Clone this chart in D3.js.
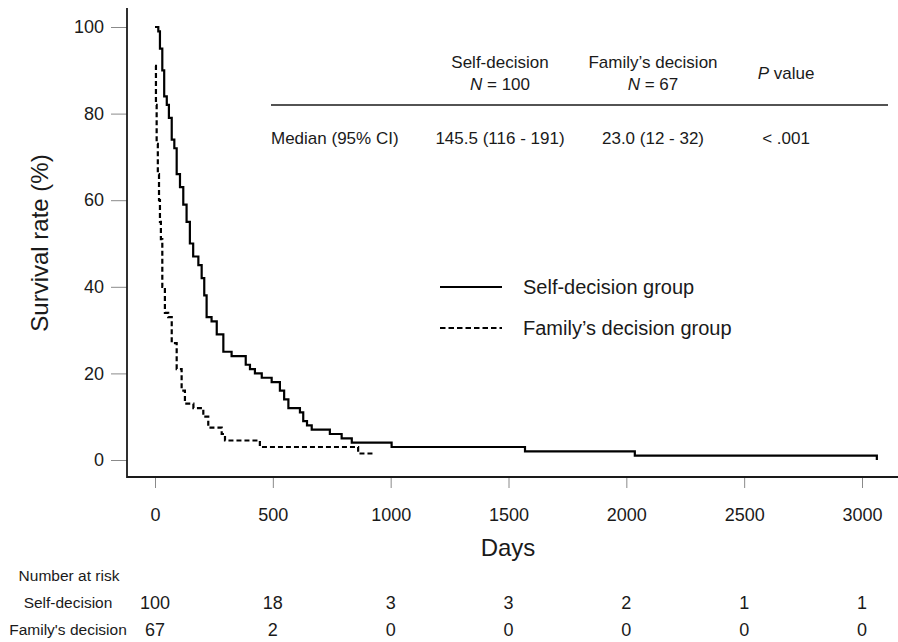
<!DOCTYPE html>
<html>
<head>
<meta charset="utf-8">
<script src="https://cdn.jsdelivr.net/npm/d3@7"></script>
<style>
  body { margin: 0; background: #fff; }
  svg { display: block; font-family: "Liberation Sans", Arial, sans-serif; }
</style>
</head>
<body>
<div id="km"></div>
<script>
// Kaplan-Meier steps: day of drop, survival (%) after it
const selfDays = [0, 14, 21, 31, 39, 50, 59, 71, 82, 92, 106, 120, 134, 148, 162, 184, 198, 209, 219, 240, 262, 290, 325, 385, 403, 424, 453, 495, 530, 548, 566, 615, 629, 645, 665, 742, 792, 835, 1004, 1570, 2036, 3063];
const selfSurv = [100, 99, 95, 90, 84, 82, 79, 74, 72, 66, 63, 59, 55, 50, 47, 45, 42, 38, 33, 32, 29, 25, 24, 22, 21, 20, 19, 18, 16, 14, 12, 11, 9, 8, 7, 6, 5, 4, 3, 2, 1, 0];
const famDays = [0, 4, 7, 12, 17, 21, 25, 31, 42, 56, 71, 92, 113, 127, 163, 205, 226, 283, 297, 445, 862, 933];
const famSurv = [91, 82, 73, 66, 60, 55, 51, 40, 34, 33, 27, 21, 16, 13, 12, 10, 7.5, 6, 4.5, 3, 1.5, 1.5];

const xTicks = [0, 500, 1000, 1500, 2000, 2500, 3000];
const yTicks = [0, 20, 40, 60, 80, 100];

const groupNames = ["Self-decision", "Family\u2019s decision"];
const groupN = [100, 67];
const medians = ["145.5 (116 - 191)", "23.0 (12 - 32)"];
const pValue = "< .001";
const legendLabels = ["Self-decision group", "Family\u2019s decision group"];

const riskLabels = ["Self-decision", "Family's decision"];
const selfRisk = [100, 18, 3, 3, 2, 1, 1];
const famRisk = [67, 2, 0, 0, 0, 0, 0];

let width = 898, height = 642;
const ink = "#1a1a1a";

const svg = d3.select("#km").append("svg")
  .attr("width", width).attr("height", height);

let x = d3.scaleLinear().domain([0, 3000]).range([155, 862]);
let y = d3.scaleLinear().domain([0, 100]).range([460, 27]);

// y axis ticks + labels
let gy = svg.append("g")
  .attr("transform", "translate(127,0)")
  .call(d3.axisLeft(y).tickValues(yTicks).tickSize(16).tickPadding(7));
gy.select(".domain").remove();
gy.selectAll("line").attr("stroke", "#8a8a8a");
gy.selectAll("text").attr("font-size", 18).attr("fill", ink).attr("font-family", null);

// x axis ticks + labels
let gx = svg.append("g")
  .attr("transform", "translate(0,478)")
  .call(d3.axisBottom(x).tickValues(xTicks).tickFormat(d3.format("d")).tickSize(10).tickPadding(20));
gx.select(".domain").remove();
gx.selectAll("line").attr("stroke", "#8a8a8a");
gx.selectAll("text").attr("font-size", 18).attr("fill", ink).attr("font-family", null);

// L-shaped frame
svg.append("path")
  .attr("d", "M127,8V477H898")
  .attr("fill", "none").attr("stroke", ink).attr("stroke-width", 1.8);

svg.append("text")
  .attr("transform", "translate(48,243) rotate(-90)")
  .attr("text-anchor", "middle")
  .attr("font-size", 24).attr("fill", ink)
  .text("Survival rate (%)");

svg.append("text")
  .attr("x", 508).attr("y", 556)
  .attr("text-anchor", "middle")
  .attr("font-size", 24).attr("fill", ink)
  .text("Days");

// curves
let line = d3.line()
  .x(d => x(d[0]))
  .y(d => y(d[1]))
  .curve(d3.curveStepAfter);

svg.append("path")
  .datum(d3.zip(selfDays, selfSurv))
  .attr("fill", "none").attr("stroke", "#000").attr("stroke-width", 2.2)
  .attr("d", line);

svg.append("path")
  .datum(d3.zip(famDays, famSurv))
  .attr("fill", "none").attr("stroke", "#000").attr("stroke-width", 2.2)
  .attr("stroke-dasharray", "5,3")
  .attr("d", line);

// legend
legendLabels.forEach((lab, i) => {
  let ly = 287 + i * 41;
  svg.append("line")
    .attr("x1", 440).attr("x2", 502).attr("y1", ly).attr("y2", ly)
    .attr("stroke", "#000").attr("stroke-width", 1.8)
    .attr("stroke-dasharray", i ? "5.5,3" : null);
  svg.append("text")
    .attr("x", 523).attr("y", ly + 7)
    .attr("font-size", 20).attr("fill", ink)
    .text(lab);
});

// inset table
const colX = [500, 653];
groupNames.forEach((g, i) => {
  svg.append("text")
    .attr("x", colX[i]).attr("y", 68)
    .attr("text-anchor", "middle").attr("font-size", 17).attr("fill", ink)
    .text(g);
  let t = svg.append("text")
    .attr("x", colX[i]).attr("y", 90)
    .attr("text-anchor", "middle").attr("font-size", 17).attr("fill", ink);
  t.append("tspan").attr("font-style", "italic").text("N");
  t.append("tspan").text(" = " + groupN[i]);
  svg.append("text")
    .attr("x", colX[i]).attr("y", 144)
    .attr("text-anchor", "middle").attr("font-size", 17).attr("fill", ink)
    .text(medians[i]);
});
let pv = svg.append("text")
  .attr("x", 786).attr("y", 79)
  .attr("text-anchor", "middle").attr("font-size", 17).attr("fill", ink);
pv.append("tspan").attr("font-style", "italic").text("P");
pv.append("tspan").text(" value");

svg.append("line")
  .attr("x1", 271).attr("x2", 888).attr("y1", 105).attr("y2", 105)
  .attr("stroke", ink).attr("stroke-width", 1.5);

svg.append("text")
  .attr("x", 271).attr("y", 144)
  .attr("font-size", 17).attr("fill", ink)
  .text("Median (95% CI)");
svg.append("text")
  .attr("x", 786).attr("y", 144)
  .attr("text-anchor", "middle").attr("font-size", 17).attr("fill", ink)
  .text(pValue);

// number at risk
svg.append("text")
  .attr("x", 69).attr("y", 581)
  .attr("text-anchor", "middle").attr("font-size", 15.5).attr("fill", ink)
  .text("Number at risk");

[selfRisk, famRisk].forEach((row, i) => {
  let ry = 608 + i * 27;
  svg.append("text")
    .attr("x", 68).attr("y", ry)
    .attr("text-anchor", "middle").attr("font-size", 15.5).attr("fill", ink)
    .text(riskLabels[i]);
  svg.selectAll(null)
    .data(row)
    .join("text")
    .attr("x", (d, j) => x(xTicks[j]))
    .attr("y", ry + 1)
    .attr("text-anchor", "middle").attr("font-size", 18).attr("fill", ink)
    .text(d => d);
});
</script>
</body>
</html>
